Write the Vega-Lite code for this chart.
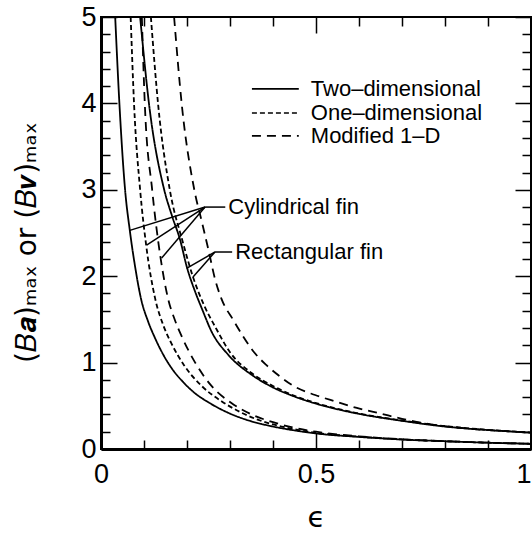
{
  "$schema": "https://vega.github.io/schema/vega-lite/v6.json",
  "width": 430,
  "height": 432,
  "autosize": {"type": "none"},
  "padding": {"left": 101, "top": 17, "right": 1, "bottom": 84},
  "background": "white",
  "config": {
    "view": {"stroke": "black", "strokeWidth": 2},
    "axis": {"grid": false, "tickColor": "black", "domainColor": "black", "labelColor": "black", "titleColor": "black"}
  },
  "datasets": {
    "curves": [
      {"s":"c2","m":"Two–dimensional","e":0.033,"b":5.0},
      {"s":"c2","m":"Two–dimensional","e":0.043,"b":3.98},
      {"s":"c2","m":"Two–dimensional","e":0.056,"b":3.0},
      {"s":"c2","m":"Two–dimensional","e":0.067,"b":2.53},
      {"s":"c2","m":"Two–dimensional","e":0.079,"b":2.12},
      {"s":"c2","m":"Two–dimensional","e":0.093,"b":1.74},
      {"s":"c2","m":"Two–dimensional","e":0.11,"b":1.47},
      {"s":"c2","m":"Two–dimensional","e":0.126,"b":1.28},
      {"s":"c2","m":"Two–dimensional","e":0.145,"b":1.09},
      {"s":"c2","m":"Two–dimensional","e":0.165,"b":0.93},
      {"s":"c2","m":"Two–dimensional","e":0.19,"b":0.78},
      {"s":"c2","m":"Two–dimensional","e":0.22,"b":0.64},
      {"s":"c2","m":"Two–dimensional","e":0.25,"b":0.54},
      {"s":"c2","m":"Two–dimensional","e":0.30,"b":0.41},
      {"s":"c2","m":"Two–dimensional","e":0.35,"b":0.32},
      {"s":"c2","m":"Two–dimensional","e":0.40,"b":0.26},
      {"s":"c2","m":"Two–dimensional","e":0.45,"b":0.215},
      {"s":"c2","m":"Two–dimensional","e":0.50,"b":0.18},
      {"s":"c2","m":"Two–dimensional","e":0.60,"b":0.14},
      {"s":"c2","m":"Two–dimensional","e":0.70,"b":0.11},
      {"s":"c2","m":"Two–dimensional","e":0.80,"b":0.09},
      {"s":"c2","m":"Two–dimensional","e":0.90,"b":0.073},
      {"s":"c2","m":"Two–dimensional","e":1.0,"b":0.06},

      {"s":"c1","m":"One–dimensional","e":0.069,"b":5.0},
      {"s":"c1","m":"One–dimensional","e":0.077,"b":3.98},
      {"s":"c1","m":"One–dimensional","e":0.091,"b":3.0},
      {"s":"c1","m":"One–dimensional","e":0.105,"b":2.36},
      {"s":"c1","m":"One–dimensional","e":0.126,"b":1.74},
      {"s":"c1","m":"One–dimensional","e":0.145,"b":1.43},
      {"s":"c1","m":"One–dimensional","e":0.164,"b":1.22},
      {"s":"c1","m":"One–dimensional","e":0.193,"b":0.97},
      {"s":"c1","m":"One–dimensional","e":0.234,"b":0.73},
      {"s":"c1","m":"One–dimensional","e":0.281,"b":0.55},
      {"s":"c1","m":"One–dimensional","e":0.327,"b":0.42},
      {"s":"c1","m":"One–dimensional","e":0.37,"b":0.33},
      {"s":"c1","m":"One–dimensional","e":0.42,"b":0.26},
      {"s":"c1","m":"One–dimensional","e":0.47,"b":0.21},
      {"s":"c1","m":"One–dimensional","e":0.50,"b":0.187},
      {"s":"c1","m":"One–dimensional","e":0.60,"b":0.143},
      {"s":"c1","m":"One–dimensional","e":0.70,"b":0.111},
      {"s":"c1","m":"One–dimensional","e":0.80,"b":0.09},
      {"s":"c1","m":"One–dimensional","e":0.90,"b":0.073},
      {"s":"c1","m":"One–dimensional","e":1.0,"b":0.06},

      {"s":"cm","m":"Modified 1–D","e":0.095,"b":5.0},
      {"s":"cm","m":"Modified 1–D","e":0.102,"b":3.98},
      {"s":"cm","m":"Modified 1–D","e":0.119,"b":3.0},
      {"s":"cm","m":"Modified 1–D","e":0.138,"b":2.23},
      {"s":"cm","m":"Modified 1–D","e":0.156,"b":1.74},
      {"s":"cm","m":"Modified 1–D","e":0.172,"b":1.49},
      {"s":"cm","m":"Modified 1–D","e":0.188,"b":1.30},
      {"s":"cm","m":"Modified 1–D","e":0.219,"b":1.0},
      {"s":"cm","m":"Modified 1–D","e":0.257,"b":0.73},
      {"s":"cm","m":"Modified 1–D","e":0.304,"b":0.53},
      {"s":"cm","m":"Modified 1–D","e":0.35,"b":0.40},
      {"s":"cm","m":"Modified 1–D","e":0.40,"b":0.31},
      {"s":"cm","m":"Modified 1–D","e":0.45,"b":0.245},
      {"s":"cm","m":"Modified 1–D","e":0.50,"b":0.2},
      {"s":"cm","m":"Modified 1–D","e":0.60,"b":0.147},
      {"s":"cm","m":"Modified 1–D","e":0.70,"b":0.112},
      {"s":"cm","m":"Modified 1–D","e":0.80,"b":0.09},
      {"s":"cm","m":"Modified 1–D","e":0.90,"b":0.073},
      {"s":"cm","m":"Modified 1–D","e":1.0,"b":0.06},

      {"s":"r2","m":"Two–dimensional","e":0.091,"b":5.0},
      {"s":"r2","m":"Two–dimensional","e":0.112,"b":3.98},
      {"s":"r2","m":"Two–dimensional","e":0.147,"b":3.0},
      {"s":"r2","m":"Two–dimensional","e":0.165,"b":2.7},
      {"s":"r2","m":"Two–dimensional","e":0.184,"b":2.42},
      {"s":"r2","m":"Two–dimensional","e":0.20,"b":2.1},
      {"s":"r2","m":"Two–dimensional","e":0.219,"b":1.82},
      {"s":"r2","m":"Two–dimensional","e":0.235,"b":1.62},
      {"s":"r2","m":"Two–dimensional","e":0.257,"b":1.36},
      {"s":"r2","m":"Two–dimensional","e":0.296,"b":1.09},
      {"s":"r2","m":"Two–dimensional","e":0.35,"b":0.86},
      {"s":"r2","m":"Two–dimensional","e":0.397,"b":0.72},
      {"s":"r2","m":"Two–dimensional","e":0.451,"b":0.605},
      {"s":"r2","m":"Two–dimensional","e":0.50,"b":0.525},
      {"s":"r2","m":"Two–dimensional","e":0.55,"b":0.46},
      {"s":"r2","m":"Two–dimensional","e":0.618,"b":0.39},
      {"s":"r2","m":"Two–dimensional","e":0.695,"b":0.33},
      {"s":"r2","m":"Two–dimensional","e":0.773,"b":0.275},
      {"s":"r2","m":"Two–dimensional","e":0.85,"b":0.237},
      {"s":"r2","m":"Two–dimensional","e":0.928,"b":0.21},
      {"s":"r2","m":"Two–dimensional","e":1.0,"b":0.19},

      {"s":"r1","m":"One–dimensional","e":0.116,"b":5.0},
      {"s":"r1","m":"One–dimensional","e":0.133,"b":3.98},
      {"s":"r1","m":"One–dimensional","e":0.16,"b":3.0},
      {"s":"r1","m":"One–dimensional","e":0.19,"b":2.4},
      {"s":"r1","m":"One–dimensional","e":0.214,"b":1.99},
      {"s":"r1","m":"One–dimensional","e":0.24,"b":1.66},
      {"s":"r1","m":"One–dimensional","e":0.265,"b":1.42},
      {"s":"r1","m":"One–dimensional","e":0.30,"b":1.12},
      {"s":"r1","m":"One–dimensional","e":0.35,"b":0.88},
      {"s":"r1","m":"One–dimensional","e":0.40,"b":0.73},
      {"s":"r1","m":"One–dimensional","e":0.45,"b":0.615},
      {"s":"r1","m":"One–dimensional","e":0.50,"b":0.532},
      {"s":"r1","m":"One–dimensional","e":0.55,"b":0.465},
      {"s":"r1","m":"One–dimensional","e":0.62,"b":0.392},
      {"s":"r1","m":"One–dimensional","e":0.70,"b":0.33},
      {"s":"r1","m":"One–dimensional","e":0.80,"b":0.265},
      {"s":"r1","m":"One–dimensional","e":0.90,"b":0.222},
      {"s":"r1","m":"One–dimensional","e":1.0,"b":0.19},

      {"s":"rm","m":"Modified 1–D","e":0.170,"b":5.0},
      {"s":"rm","m":"Modified 1–D","e":0.188,"b":3.98},
      {"s":"rm","m":"Modified 1–D","e":0.217,"b":3.0},
      {"s":"rm","m":"Modified 1–D","e":0.235,"b":2.62},
      {"s":"rm","m":"Modified 1–D","e":0.251,"b":2.28},
      {"s":"rm","m":"Modified 1–D","e":0.265,"b":1.97},
      {"s":"rm","m":"Modified 1–D","e":0.28,"b":1.74},
      {"s":"rm","m":"Modified 1–D","e":0.308,"b":1.49},
      {"s":"rm","m":"Modified 1–D","e":0.331,"b":1.30},
      {"s":"rm","m":"Modified 1–D","e":0.356,"b":1.12},
      {"s":"rm","m":"Modified 1–D","e":0.385,"b":0.97},
      {"s":"rm","m":"Modified 1–D","e":0.416,"b":0.84},
      {"s":"rm","m":"Modified 1–D","e":0.451,"b":0.72},
      {"s":"rm","m":"Modified 1–D","e":0.498,"b":0.625},
      {"s":"rm","m":"Modified 1–D","e":0.545,"b":0.55},
      {"s":"rm","m":"Modified 1–D","e":0.595,"b":0.475},
      {"s":"rm","m":"Modified 1–D","e":0.65,"b":0.41},
      {"s":"rm","m":"Modified 1–D","e":0.70,"b":0.35},
      {"s":"rm","m":"Modified 1–D","e":0.773,"b":0.28},
      {"s":"rm","m":"Modified 1–D","e":0.85,"b":0.238},
      {"s":"rm","m":"Modified 1–D","e":0.928,"b":0.21},
      {"s":"rm","m":"Modified 1–D","e":1.0,"b":0.19}
    ],
    "legend": [
      {"m":"Two–dimensional","e":0.351,"e2":0.460,"b":4.167},
      {"m":"One–dimensional","e":0.351,"e2":0.460,"b":3.889},
      {"m":"Modified 1–D","e":0.351,"e2":0.460,"b":3.623}
    ],
    "pointers": [
      {"e":0.242,"b":2.80,"e2":0.289,"b2":2.80},
      {"e":0.242,"b":2.80,"e2":0.067,"b2":2.53},
      {"e":0.242,"b":2.80,"e2":0.106,"b2":2.36},
      {"e":0.242,"b":2.80,"e2":0.141,"b2":2.21},
      {"e":0.265,"b":2.28,"e2":0.305,"b2":2.28},
      {"e":0.265,"b":2.28,"e2":0.199,"b2":2.09},
      {"e":0.265,"b":2.28,"e2":0.214,"b2":1.99}
    ],
    "labels": [
      {"t":"Cylindrical fin","e":0.289,"b":2.80},
      {"t":"Rectangular fin","e":0.305,"b":2.28}
    ]
  },
  "layer": [
    {
      "data": {"name": "curves"},
      "mark": {"type": "line", "color": "black", "strokeWidth": 1.8, "clip": true, "interpolate": "monotone"},
      "encoding": {
        "x": {"field": "e", "type": "quantitative", "scale": {"domain": [0, 1], "nice": false, "zero": false},
          "axis": {"orient": "bottom", "values": [0, 0.5, 1], "format": "~g", "ticks": false, "domain": true, "domainWidth": 3,
            "labelFont": "Liberation Sans", "labelFontSize": 27, "labelPadding": 12, "labelFlush": false, "labelOverlap": false,
            "labelAlign": {"condition": {"test": "datum.value == 1", "value": "right"}, "value": "center"},
            "title": "ϵ", "titleFont": "DejaVu Sans", "titleFontSize": 29, "titleFontWeight": "normal",
            "titleX": 215, "titleY": 68, "titleAlign": "center", "titleBaseline": "middle"}},
        "y": {"field": "b", "type": "quantitative", "scale": {"domain": [0, 5], "nice": false, "zero": false},
          "axis": {"orient": "left", "values": [0, 1, 2, 3, 4, 5], "format": "d", "ticks": false, "domain": true, "domainWidth": 3,
            "labelFont": "Liberation Sans", "labelFontSize": 27, "labelPadding": 5, "labelFlush": false, "labelOverlap": false,
            "title": "(𝐵𝒂)ₘₐₓ or (𝐵𝒗)ₘₐₓ", "titleFont": "DejaVu Sans", "titleFontSize": 28, "titleFontWeight": "normal",
            "titleX": -74, "titleY": 225, "titleAngle": -90, "titleAlign": "center", "titleBaseline": "middle"}},
        "detail": {"field": "s", "type": "nominal"},
        "strokeDash": {"field": "m", "type": "nominal",
          "scale": {"domain": ["Two–dimensional", "One–dimensional", "Modified 1–D"], "range": [[1, 0], [5, 3], [9, 6]]},
          "legend": null},
        "order": {"field": "e", "type": "quantitative"}
      }
    },
    {
      "data": {"name": "legend"},
      "mark": {"type": "rule", "color": "black", "strokeWidth": 1.7},
      "encoding": {
        "x": {"field": "e", "type": "quantitative", "scale": {"domain": [0, 1], "nice": false, "zero": false},
          "axis": {"orient": "bottom", "values": [0, 0.5, 1], "labels": false, "domain": false, "title": null, "tickSize": -16, "tickWidth": 1.5}},
        "x2": {"field": "e2"},
        "y": {"field": "b", "type": "quantitative", "scale": {"domain": [0, 5], "nice": false, "zero": false},
          "axis": {"orient": "left", "values": [0, 1, 2, 3, 4, 5], "labels": false, "domain": false, "title": null, "tickSize": -16, "tickWidth": 1.5}},
        "strokeDash": {"field": "m", "type": "nominal",
          "scale": {"domain": ["Two–dimensional", "One–dimensional", "Modified 1–D"], "range": [[1, 0], [5, 3], [9, 6]]},
          "legend": null}
      }
    },
    {
      "data": {"name": "legend"},
      "mark": {"type": "text", "align": "left", "baseline": "middle", "dx": 12, "font": "Liberation Sans", "fontSize": 22, "color": "black"},
      "encoding": {
        "x": {"field": "e2", "type": "quantitative", "scale": {"domain": [0, 1], "nice": false, "zero": false},
          "axis": {"orient": "bottom", "values": [0.1, 0.2, 0.3, 0.4, 0.6, 0.7, 0.8, 0.9], "labels": false, "domain": false, "title": null, "tickSize": -9, "tickWidth": 1.5}},
        "y": {"field": "b", "type": "quantitative", "scale": {"domain": [0, 5], "nice": false, "zero": false},
          "axis": {"orient": "left", "values": [0.2, 0.4, 0.6, 0.8, 1.2, 1.4, 1.6, 1.8, 2.2, 2.4, 2.6, 2.8, 3.2, 3.4, 3.6, 3.8, 4.2, 4.4, 4.6, 4.8], "labels": false, "domain": false, "title": null, "tickSize": -9, "tickWidth": 1.5}},
        "text": {"field": "m", "type": "nominal"}
      }
    },
    {
      "data": {"name": "pointers"},
      "mark": {"type": "rule", "color": "black", "strokeWidth": 1.5},
      "encoding": {
        "x": {"field": "e", "type": "quantitative", "scale": {"domain": [0, 1], "nice": false, "zero": false},
          "axis": {"orient": "top", "values": [0, 0.5, 1], "labels": false, "domain": false, "title": null, "tickSize": -16, "tickWidth": 1.5}},
        "y": {"field": "b", "type": "quantitative", "scale": {"domain": [0, 5], "nice": false, "zero": false},
          "axis": {"orient": "right", "values": [0, 1, 2, 3, 4, 5], "labels": false, "domain": false, "title": null, "tickSize": -16, "tickWidth": 1.5}},
        "x2": {"field": "e2"},
        "y2": {"field": "b2"}
      }
    },
    {
      "data": {"name": "labels"},
      "mark": {"type": "text", "align": "left", "baseline": "middle", "dx": 3, "font": "Liberation Sans", "fontSize": 22, "color": "black"},
      "encoding": {
        "x": {"field": "e", "type": "quantitative", "scale": {"domain": [0, 1], "nice": false, "zero": false},
          "axis": {"orient": "top", "values": [0.1, 0.2, 0.3, 0.4, 0.6, 0.7, 0.8, 0.9], "labels": false, "domain": false, "title": null, "tickSize": -9, "tickWidth": 1.5}},
        "y": {"field": "b", "type": "quantitative", "scale": {"domain": [0, 5], "nice": false, "zero": false},
          "axis": {"orient": "right", "values": [0.2, 0.4, 0.6, 0.8, 1.2, 1.4, 1.6, 1.8, 2.2, 2.4, 2.6, 2.8, 3.2, 3.4, 3.6, 3.8, 4.2, 4.4, 4.6, 4.8], "labels": false, "domain": false, "title": null, "tickSize": -9, "tickWidth": 1.5}},
        "text": {"field": "t", "type": "nominal"}
      }
    }
  ],
  "resolve": {"axis": {"x": "independent", "y": "independent"}}
}
